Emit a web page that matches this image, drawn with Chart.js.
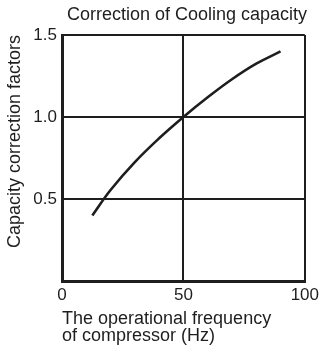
<!DOCTYPE html>
<html>
<head>
<meta charset="utf-8">
<script src="https://cdn.jsdelivr.net/npm/chart.js@4/dist/chart.umd.min.js"></script>
<style>
  html, body { margin: 0; padding: 0; background: #fff; }
  #wrap { width: 323px; height: 351px; position: relative; }
</style>
</head>
<body>
<div id="wrap"><canvas id="c" width="323" height="351"></canvas></div>
<script>
// Compressor frequency (Hz) and the matching capacity correction factor
const frequencyHz = [12.5, 20, 30, 40, 50, 60, 70, 80, 90];
const correctionFactor = [0.40, 0.555, 0.725, 0.87, 1.0, 1.12, 1.23, 1.325, 1.40];
const xTicks = [0, 50, 100];
const yTicks = [0.5, 1.0, 1.5];

const ink = '#1e1e1e';
const font = 'Arial, "Liberation Sans", sans-serif';

const points = frequencyHz.map((x, i) => ({ x, y: correctionFactor[i] }));

new Chart(document.getElementById('c'), {
  type: 'line',
  data: {
    datasets: [{
      data: points,
      borderColor: ink,
      borderWidth: 2.6,
      pointRadius: 0,
      fill: false,
      tension: 0.4
    }]
  },
  options: {
    responsive: false,
    animation: false,
    events: [],
    layout: { padding: { left: 0, right: 16, top: 0, bottom: 0 } },
    plugins: {
      legend: { display: false },
      tooltip: { enabled: false },
      title: {
        display: true,
        text: 'Correction of Cooling capacity',
        color: ink,
        font: { family: font, size: 18, weight: 'normal', lineHeight: 1.2 },
        padding: { top: 4, bottom: 9.4 },
        align: 'end'
      }
    },
    scales: {
      x: {
        type: 'linear',
        min: 0,
        max: 100,
        afterBuildTicks: s => { s.ticks = xTicks.map(v => ({ value: v })); },
        afterFit: s => { s.height = 70; },
        ticks: { color: ink, font: { family: font, size: 17 }, padding: 4, maxRotation: 0 },
        grid: { color: ink, lineWidth: 2, drawTicks: false },
        border: { color: ink, width: 3 },
        title: {
          display: true,
          text: ['The operational frequency', 'of compressor (Hz)'],
          align: 'start',
          color: ink,
          font: { family: font, size: 18, lineHeight: 0.93 },
          padding: { top: 0, bottom: 7 }
        }
      },
      y: {
        type: 'linear',
        min: 0,
        max: 1.5,
        afterBuildTicks: s => { s.ticks = yTicks.map(v => ({ value: v })); },
        afterFit: s => { s.width = 62; },
        ticks: {
          color: ink,
          font: { family: font, size: 17 },
          padding: 5,
          callback: v => v.toFixed(1)
        },
        grid: { color: ink, lineWidth: 2, drawTicks: false },
        border: { color: ink, width: 3 },
        title: {
          display: true,
          text: 'Capacity correction factors',
          align: 'end',
          color: ink,
          font: { family: font, size: 18 },
          padding: { top: 4, bottom: 0 }
        }
      }
    }
  }
});
</script>
</body>
</html>
